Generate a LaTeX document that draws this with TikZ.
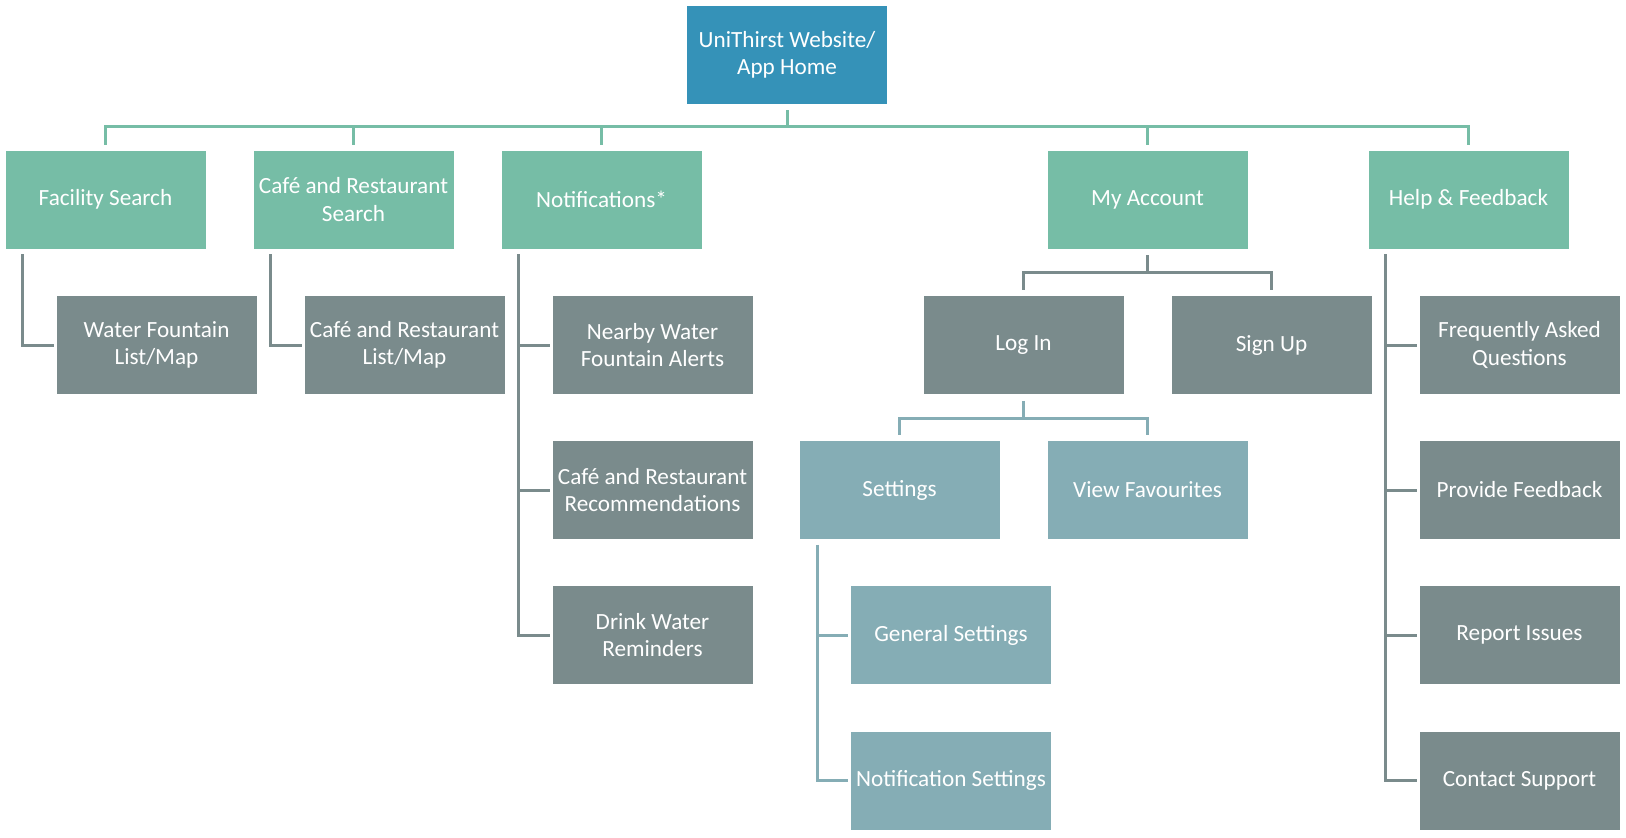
\documentclass[tikz,border=0pt]{standalone}
\usepackage{fontspec}
\setmainfont{Carlito}
\usetikzlibrary{calc}

\definecolor{homeblue}{HTML}{3592B8}
\definecolor{topgreen}{HTML}{76BDA6}
\definecolor{slategrey}{HTML}{7A8B8C}
\definecolor{paleblue}{HTML}{85ADB5}

\tikzset{
  box/.style={rectangle, draw=white, line width=0.4pt, minimum width=100.5pt,
    minimum height=49.5pt, inner sep=1pt, align=center, text=white,
    font=\fontsize{11.6}{13.6}\selectfont},
  homebox/.style={box, fill=homeblue},
  topbox/.style={box, fill=topgreen},
  subbox/.style={box, fill=slategrey},
  userbox/.style={box, fill=paleblue},
  link/.style={line width=1.5pt, line cap=butt},
  greenlink/.style={link, draw=topgreen},
  greylink/.style={link, draw=slategrey},
  bluelink/.style={link, draw=paleblue}
}

\begin{document}
\begin{tikzpicture}[x=0.5pt,y=-0.5pt]

  \useasboundingbox (0,0) rectangle (1626,837);

  % home
  \node[homebox] (home) at (787,54.5) {UniThirst Website/\\App Home};

  % first level
  \node[topbox] (facility) at (105.5,199.5) {Facility Search};
  \node[topbox] (cafe) at (353.5,199.5) {Café and Restaurant\\Search};
  \node[topbox] (notif) at (601.5,199.5) {Notifications*};
  \node[topbox] (account) at (1147.5,199.5) {My Account};
  \node[topbox] (help) at (1468.5,199.5) {Help \& Feedback};

  % second level
  \node[subbox] (fountain) at (156.5,345) {Water Fountain\\List/Map};
  \node[subbox] (cafemap) at (404.5,345) {Café and Restaurant\\List/Map};
  \node[subbox] (alerts) at (652.5,345) {Nearby Water\\Fountain Alerts};
  \node[subbox] (recs) at (652.5,490) {Café and Restaurant\\Recommendations};
  \node[subbox] (drink) at (652.5,635) {Drink Water\\Reminders};
  \node[subbox] (login) at (1023.5,345) {Log In};
  \node[subbox] (signup) at (1271.5,345) {Sign Up};
  \node[subbox] (faq) at (1519.5,345) {Frequently Asked\\Questions};
  \node[subbox] (feedback) at (1519.5,490) {Provide Feedback};
  \node[subbox] (issues) at (1519.5,635) {Report Issues};
  \node[subbox] (support) at (1519.5,780.5) {Contact Support};

  % account pages
  \node[userbox] (settings) at (899.5,490) {Settings};
  \node[userbox] (favs) at (1147.5,490) {View Favourites};
  \node[userbox] (general) at (951,635) {General Settings};
  \node[userbox] (notifset) at (951,780.5) {Notification Settings};

  % home bus
  \coordinate (homebus) at (0,126.5);
  \draw[greenlink, shorten <=3pt] (home.south) -- (home.south |- homebus);
  \foreach \c in {facility,cafe,notif,account,help}
    \draw[greenlink, shorten >=2.5pt] (home.south |- homebus) -| (\c.north);

  % account bus
  \coordinate (accbus) at (0,272.5);
  \draw[greylink, shorten <=3pt] (account.south) -- (account.south |- accbus);
  \foreach \c in {login,signup}
    \draw[greylink, shorten >=2.5pt] (account.south |- accbus) -| (\c.north);

  % log in bus
  \coordinate (loginbus) at (0,418);
  \draw[bluelink, shorten <=3pt] (login.south) -- (login.south |- loginbus);
  \foreach \c in {settings,favs}
    \draw[bluelink, shorten >=2.5pt] (login.south |- loginbus) -| (\c.north);

  % side lists
  \foreach \p/\c in {facility/fountain,cafe/cafemap,notif/alerts,notif/recs,notif/drink,
                     help/faq,help/feedback,help/issues,help/support}
    \draw[greylink, shorten >=1pt] (\p.south west) ++(18,5) |- (\c.west);
  \foreach \c in {general,notifset}
    \draw[bluelink, shorten >=1pt] (settings.south west) ++(19,5) |- (\c.west);

\end{tikzpicture}
\end{document}
